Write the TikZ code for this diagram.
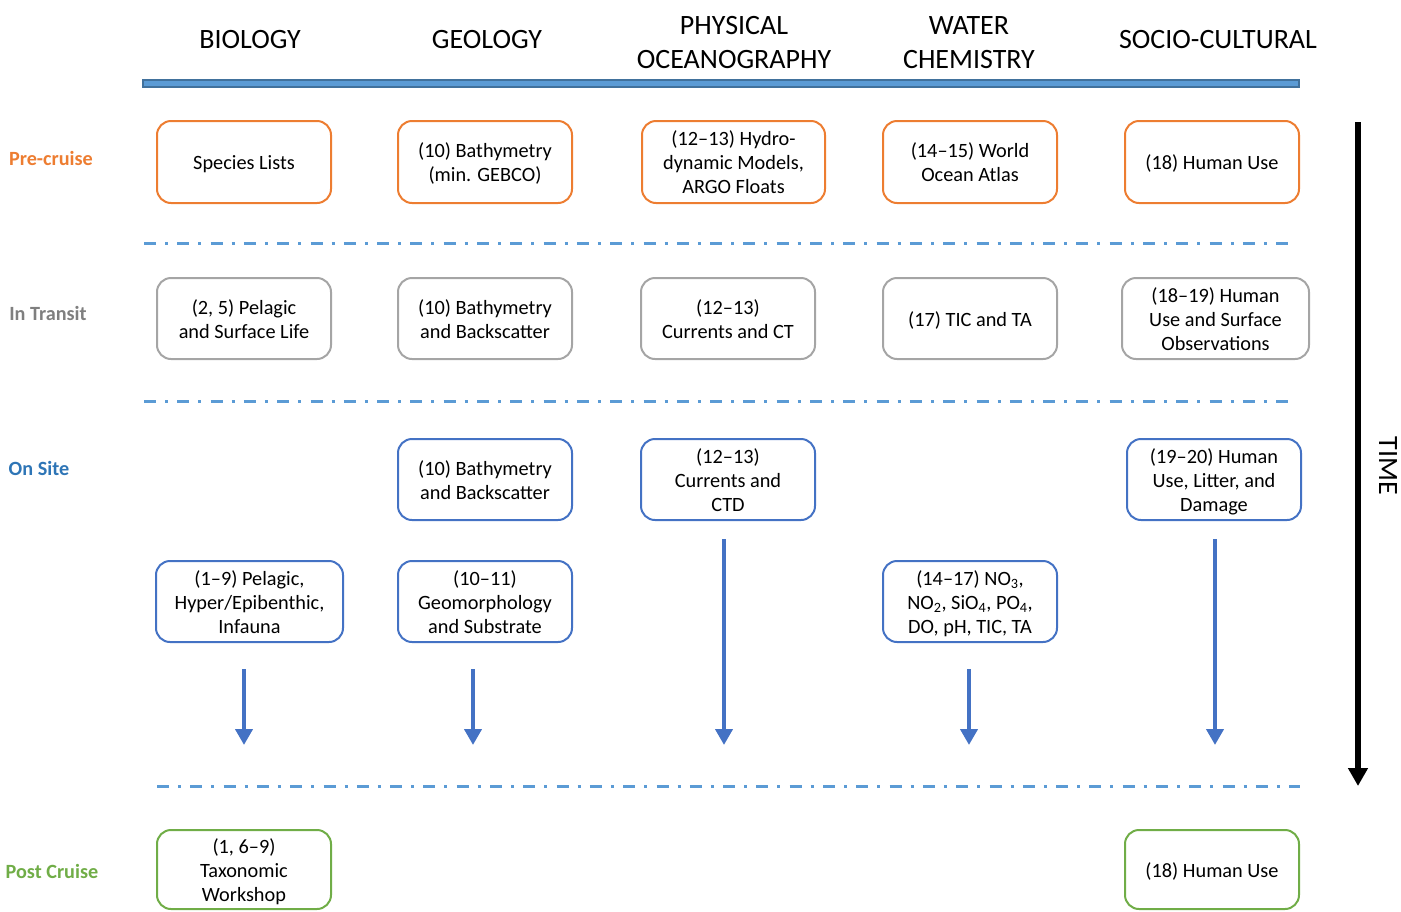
\documentclass[tikz,border=0pt]{standalone}
\usepackage{fontspec}
\setmainfont{Carlito}
\usetikzlibrary{arrows.meta}
\definecolor{corange}{HTML}{ED7D31}
\definecolor{cgray}{HTML}{A5A5A5}
\definecolor{cgraytxt}{HTML}{7F7F7F}
\definecolor{cblue}{HTML}{4472C4}
\definecolor{cbluetxt}{HTML}{2E75B6}
\definecolor{cgreen}{HTML}{70AD47}
\definecolor{clight}{HTML}{5B9BD5}
\definecolor{cbarborder}{HTML}{41719C}
\newcommand\bxt[1]{\begin{tabular}{@{}c@{}}\rule{0pt}{22.2pt}#1\end{tabular}}
\tikzset{
  box/.style={draw, rounded corners=14pt, line width=2pt, inner sep=0pt,
    font=\fontsize{20.3}{24}\selectfont, text=black},
  prebox/.style={box, draw=corange},
  transbox/.style={box, draw=cgray},
  sitebox/.style={box, draw=cblue},
  postbox/.style={box, draw=cgreen},
  header/.style={align=center, inner sep=0pt, font=\fontsize{28}{34}\selectfont},
  rowlabel/.style={inner sep=0pt, font=\fontsize{20.2}{24}\selectfont\bfseries},
  sep/.style={draw=clight, line width=3pt, dash pattern=on 12pt off 9pt on 3pt off 9.3pt},
  flow/.style={draw=cblue, line width=4.5pt, -{Triangle[width=17pt,length=16pt]}},
  timearrow/.style={draw=black, line width=6pt, -{Triangle[width=19pt,length=18pt]}}
}
\begin{document}
\begin{tikzpicture}[x=1pt,y=-1pt]
\useasboundingbox (0,0) rectangle (1401,911);

% headers
\node[header] (hbio) at (250,40) {BIOLOGY};
\node[header] (hgeo) at (487,40) {GEOLOGY};
\node[header] (hphy) at (734,43) {PHYSICAL\\OCEANOGRAPHY};
\node[header] (hwat) at (969,43) {WATER\\CHEMISTRY};
\node[header] (hsoc) at (1218,40) {SOCIO-CULTURAL};
\node[draw=cbarborder, fill=clight, line width=1.2pt, minimum width=1156pt, minimum height=7pt, inner sep=0pt] (bar) at (721,83.5) {};

% row labels
\node[rowlabel, text=corange] (lpre) at (51,158) {Pre-cruise};
\node[rowlabel, text=cgraytxt] (ltra) at (48,313) {In Transit};
\node[rowlabel, text=cbluetxt] (lsit) at (39,468) {On Site};
\node[rowlabel, text=cgreen] (lpos) at (52,871) {Post Cruise};

% separators
\coordinate (s1a) at (144,243); \coordinate (s1b) at (1292,243);
\coordinate (s2a) at (144,401); \coordinate (s2b) at (1292,401);
\coordinate (s3a) at (157,786); \coordinate (s3b) at (1300,786);
\draw[sep] (s1a) -- (s1b);
\draw[sep] (s2a) -- (s2b);
\draw[sep] (s3a) -- (s3b);

% row 1
\node[prebox, minimum width=174pt, minimum height=82pt] (a1) at (244,162) {\bxt{Species Lists}};
\node[prebox, minimum width=174pt, minimum height=82pt] (a2) at (485,162) {\bxt{(10) Bathymetry\\(min. GEBCO)}};
\node[prebox, minimum width=183pt, minimum height=82pt] (a3) at (733.5,162) {\bxt{(12--13) Hydro-\\dynamic Models,\\ARGO Floats}};
\node[prebox, minimum width=174pt, minimum height=82pt] (a4) at (970,162) {\bxt{(14--15) World\\Ocean Atlas}};
\node[prebox, minimum width=174pt, minimum height=82pt] (a5) at (1212,162) {\bxt{(18) Human Use}};

% row 2
\node[transbox, minimum width=174pt, minimum height=81pt] (b1) at (244,318.5) {\bxt{(2, 5) Pelagic\\and Surface Life}};
\node[transbox, minimum width=174pt, minimum height=81pt] (b2) at (485,318.5) {\bxt{(10) Bathymetry\\and Backscatter}};
\node[transbox, minimum width=174pt, minimum height=81pt] (b3) at (728,318.5) {\bxt{(12--13)\\Currents and CT}};
\node[transbox, minimum width=174pt, minimum height=81pt] (b4) at (970,318.5) {\bxt{(17) TIC and TA}};
\node[transbox, minimum width=187pt, minimum height=81pt] (b5) at (1215.5,318.5) {\bxt{(18--19) Human\\Use and Surface\\Observations}};

% row 3
\node[sitebox, minimum width=174pt, minimum height=81pt] (c2) at (485,479.5) {\bxt{(10) Bathymetry\\and Backscatter}};
\node[sitebox, minimum width=174pt, minimum height=81pt] (c3) at (728,479.5) {\bxt{(12--13)\\Currents and\\CTD}};
\node[sitebox, minimum width=174pt, minimum height=81pt] (c5) at (1214,479.5) {\bxt{(19--20) Human\\Use, Litter, and\\Damage}};

% row 4
\node[sitebox, minimum width=187pt, minimum height=81pt] (d1) at (249.5,601.5) {\bxt{(1--9) Pelagic,\\Hyper/Epibenthic,\\Infauna}};
\node[sitebox, minimum width=174pt, minimum height=81pt] (d2) at (485,601.5) {\bxt{(10--11)\\Geomorphology\\and Substrate}};
\node[sitebox, minimum width=174pt, minimum height=81pt] (d4) at (970,601.5) {\bxt{(14--17) NO\textsubscript{3},\\NO\textsubscript{2}, SiO\textsubscript{4}, PO\textsubscript{4},\\DO, pH, TIC, TA}};

% row 5
\node[postbox, minimum width=174pt, minimum height=79pt] (e1) at (244,869.5) {\bxt{(1, 6--9)\\Taxonomic\\Workshop}};
\node[postbox, minimum width=174pt, minimum height=79pt] (e5) at (1212,869.5) {\bxt{(18) Human Use}};

% flow arrows
\coordinate (f1s) at (244,669); \coordinate (f1e) at (244,745);
\coordinate (f2s) at (473,669); \coordinate (f2e) at (473,745);
\coordinate (f3s) at (724,539); \coordinate (f3e) at (724,745);
\coordinate (f4s) at (969,669); \coordinate (f4e) at (969,745);
\coordinate (f5s) at (1215,539); \coordinate (f5e) at (1215,745);
\draw[flow] (f1s) -- (f1e);
\draw[flow] (f2s) -- (f2e);
\draw[flow] (f3s) -- (f3e);
\draw[flow] (f4s) -- (f4e);
\draw[flow] (f5s) -- (f5e);

% time arrow
\coordinate (ts) at (1358,122); \coordinate (te) at (1358,786);
\draw[timearrow] (ts) -- (te);
\node[header, rotate=-90] (time) at (1388,466) {TIME};
\end{tikzpicture}
\end{document}
